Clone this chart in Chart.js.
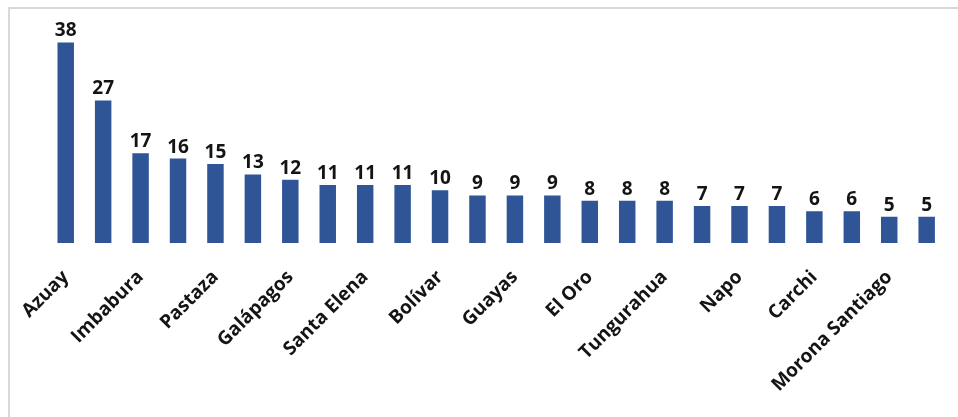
<!DOCTYPE html>
<html>
<head>
<meta charset="utf-8">
<script src="https://cdn.jsdelivr.net/npm/chart.js@4"></script>
<style>
  html, body { margin: 0; padding: 0; background: #fff; }
  #wrap { position: relative; width: 958px; height: 417px; overflow: hidden; }
  #frame { position: absolute; left: 8px; top: 7px; width: 960px; height: 420px;
           border-left: 2px solid #d9d9d9; border-top: 2px solid #d9d9d9; }
  canvas { position: absolute; left: 0; top: 0; }
</style>
</head>
<body>
<div id="wrap">
  <div id="frame"></div>
  <canvas id="chart" width="958" height="417"></canvas>
</div>
<script>
// provincias y casos
const provincias = ['Azuay', 'Pichincha', 'Imbabura', 'Loja', 'Pastaza', 'Chimborazo',
  'Galápagos', 'Cotopaxi', 'Santa Elena', 'Manabí', 'Bolívar', 'Los Ríos',
  'Guayas', 'Esmeraldas', 'El Oro', 'Cañar', 'Tungurahua', 'Sucumbíos',
  'Napo', 'Orellana', 'Carchi', 'Santo Domingo', 'Morona Santiago', 'Zamora Chinchipe'];
const casos = [38, 27, 17, 16, 15, 13, 12, 11, 11, 11, 10, 9, 9, 9, 8, 8, 8, 7, 7, 7, 6, 6, 5, 5];
const yMax = 40;

// etiquetas de valor sobre cada barra
const valueLabels = {
  id: 'valueLabels',
  afterDatasetsDraw(chart) {
    const ctx = chart.ctx;
    const meta = chart.getDatasetMeta(0);
    ctx.save();
    ctx.font = 'bold 19px "Open Sans"';
    ctx.fillStyle = '#141414';
    ctx.textAlign = 'center';
    ctx.textBaseline = 'bottom';
    meta.data.forEach((bar, i) => {
      ctx.fillText(casos[i], bar.x, bar.y - 2);
    });
    ctx.restore();
  }
};

new Chart(document.getElementById('chart'), {
  type: 'bar',
  data: {
    labels: provincias,
    datasets: [{
      data: casos,
      backgroundColor: '#2f5597',
      categoryPercentage: 0.44,
      barPercentage: 1
    }]
  },
  options: {
    responsive: false,
    animation: false,
    layout: { padding: { left: 47, right: 10, top: 32, bottom: 0 } },
    plugins: { legend: { display: false }, tooltip: { enabled: false } },
    scales: {
      x: {
        grid: { display: false },
        border: { display: false },
        afterFit: (scale) => { scale.height = 174; },
        ticks: {
          autoSkip: false,
          maxRotation: 45,
          minRotation: 45,
          padding: 15,
          color: '#141414',
          font: { family: 'Open Sans', size: 19, weight: 'bold' },
          callback: function (val, i) {
            return i % 2 === 0 ? provincias[i] : '';
          }
        }
      },
      y: { display: false, min: 0, max: yMax }
    }
  },
  plugins: [valueLabels]
});
</script>
</body>
</html>
